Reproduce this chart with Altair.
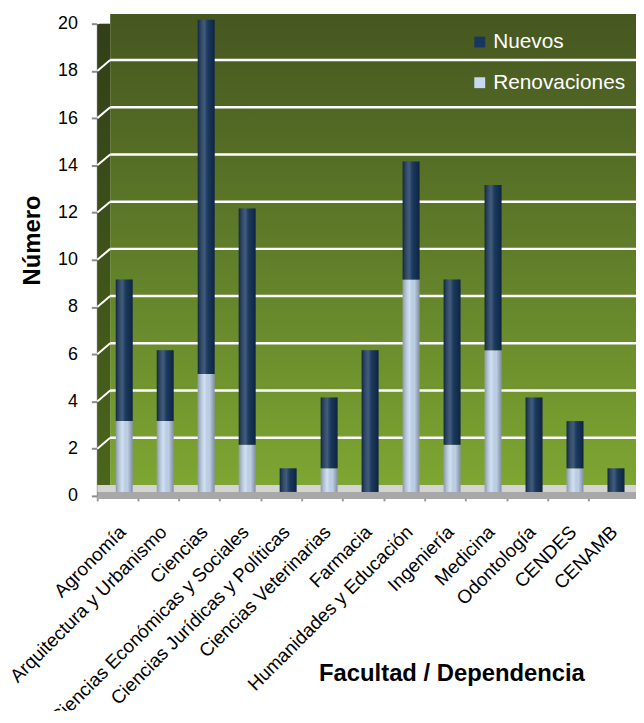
import altair as alt
import pandas as pd

facultades = ["Agronomía", "Arquitectura y Urbanismo", "Ciencias",
              "Ciencias Económicas y Sociales", "Ciencias Jurídicas y Políticas",
              "Ciencias Veterinarias", "Farmacia", "Humanidades y Educación",
              "Ingeniería", "Medicina", "Odontología", "CENDES", "CENAMB"]
renovaciones = [3, 3, 5, 2, 0, 1, 0, 9, 2, 6, 0, 1, 0]
nuevos = [6, 3, 15, 10, 1, 3, 6, 5, 7, 7, 4, 2, 1]
series = ["Nuevos", "Renovaciones"]
colores = ["#17375e", "#c6d9f1"]
y_ticks = [0, 2, 4, 6, 8, 10, 12, 14, 16, 18, 20]
grid_values = [2, 4, 6, 8, 10, 12, 14, 16, 18, 20]

W, H = 537, 476
FONT = "Liberation Sans"

rows = []
for f, r, n in zip(facultades, renovaciones, nuevos):
    rows.append({"facultad": f, "serie": "Renovaciones", "valor": r, "orden": 0})
    rows.append({"facultad": f, "serie": "Nuevos", "valor": n, "orden": 1})
df = pd.DataFrame(rows)
grid_df = pd.DataFrame({"valor": grid_values})

one = alt.Data(values=[{}])

bg_grad = alt.LinearGradient(gradient="linear", x1=0, x2=0, y1=0, y2=1, stops=[
    alt.GradientStop(color="#465620", offset=0),
    alt.GradientStop(color="#5f7d29", offset=0.5),
    alt.GradientStop(color="#7ea632", offset=1)])
wall_grad = alt.LinearGradient(gradient="linear", x1=0, x2=0, y1=0, y2=1, stops=[
    alt.GradientStop(color="#323f17", offset=0),
    alt.GradientStop(color="#4b661c", offset=1)])
shade_grad = alt.LinearGradient(gradient="linear", x1=0, x2=1, y1=0, y2=0, stops=[
    alt.GradientStop(color="rgba(0,0,0,0.30)", offset=0),
    alt.GradientStop(color="rgba(255,255,255,0.18)", offset=0.4),
    alt.GradientStop(color="rgba(0,0,0,0.05)", offset=0.7),
    alt.GradientStop(color="rgba(0,0,0,0.35)", offset=1)])

bg = alt.Chart(one).mark_rect(fill=bg_grad).encode(
    x=alt.value(13), x2=alt.value(W + 20), y=alt.value(-10), y2=alt.value(H - 11))
wall = alt.Chart(one).mark_rect(fill=wall_grad).encode(
    x=alt.value(0), x2=alt.value(13), y=alt.value(0), y2=alt.value(H))
floor_top = alt.Chart(one).mark_rect(fill="#d4d4d4").encode(
    x=alt.value(0), x2=alt.value(W + 20), y=alt.value(H - 11), y2=alt.value(H - 4))
floor_front = alt.Chart(one).mark_rect(fill="#a8a8a8").encode(
    x=alt.value(0), x2=alt.value(W + 20), y=alt.value(H - 4), y2=alt.value(H + 3))

y_enc = alt.Y("valor:Q", stack="zero",
              scale=alt.Scale(domain=[0, 20], nice=False),
              axis=alt.Axis(values=y_ticks, grid=False, domainColor="#8c8c8c",
                            domainWidth=2, tickColor="#8c8c8c", tickSize=6,
                            tickWidth=2, labelFontSize=18, labelFont=FONT,
                            labelColor="black", labelPadding=14,
                            title="Número", titleFontSize=24, titleFont=FONT,
                            titleFontWeight="bold", titleColor="black",
                            titleX=-65, titleY=218, titleAngle=270,
                            titleAlign="center", titleBaseline="middle"))
x_enc = alt.X("facultad:N", sort=facultades,
              scale=alt.Scale(paddingInner=0, paddingOuter=0),
              axis=alt.Axis(labelAngle=-45, labelAlign="right", labelBaseline="middle",
                            labelFontSize=19, labelFont=FONT, labelColor="black",
                            labelPadding=28, labelOffset=5, labelLimit=0,
                            labelOverlap=False, bandPosition=0,
                            ticks=True, tickSize=5, tickColor="#999999", tickWidth=2,
                            domainColor="#999999", domainWidth=2,
                            title="Facultad / Dependencia", titleFontSize=24,
                            titleFont=FONT, titleFontWeight="bold", titleColor="black",
                            titleX=357, titleY=179, titleAlign="center",
                            titleBaseline="middle"))

grid = alt.Chart(grid_df).mark_rule(color="white", strokeWidth=2.5, yOffset=-11).encode(
    x=alt.value(13), x2=alt.value(W + 20), y=alt.Y("valor:Q"))
stubs = alt.Chart(grid_df).mark_rule(color="white", strokeWidth=2, y2Offset=-11).encode(
    x=alt.value(0), x2=alt.value(13), y=alt.Y("valor:Q"), y2="valor:Q")

bars = alt.Chart(df).mark_bar(size=17, xOffset=6.5, x2Offset=6.5,
                              yOffset=-4, y2Offset=-4).encode(
    x=x_enc, y=y_enc,
    color=alt.Color("serie:N", scale=alt.Scale(domain=series, range=colores),
                    legend=alt.Legend(orient="none", legendX=375, legendY=8,
                                      title=None, labelColor="white",
                                      labelFontSize=21, labelFont=FONT,
                                      symbolType="square", symbolSize=121,
                                      symbolStrokeWidth=0, symbolOpacity=1,
                                      rowPadding=19, labelOffset=3, padding=0)),
    order=alt.Order("orden:Q"))

shade = alt.Chart(df).mark_bar(size=17, xOffset=6.5, x2Offset=6.5,
                               yOffset=-4, y2Offset=-4, fill=shade_grad).encode(
    x=x_enc, y=y_enc, detail="serie:N", order=alt.Order("orden:Q"))

chart = alt.layer(bg, wall, grid, stubs, floor_top, floor_front, bars, shade).properties(
    width=W, height=H,
    autosize=alt.AutoSizeParams(type="none"),
    padding={"left": 90, "top": 13, "right": 6, "bottom": 214},
).configure_view(stroke=None).configure(background="white")

chart.save("out.html", embed_options={"renderer": "svg", "actions": False})
